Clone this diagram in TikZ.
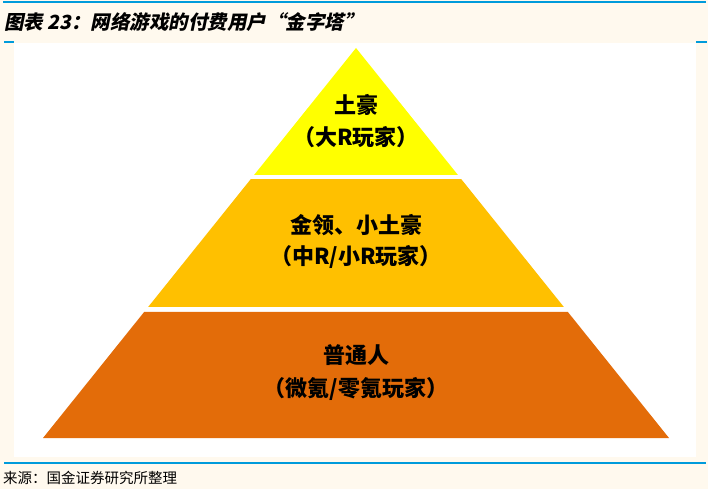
\documentclass[tikz,border=0pt]{standalone}
\usepackage{fontspec}
\newfontfamily\cjk{Noto Sans CJK SC}
\newfontfamily\cjkslant{Noto Sans CJK SC}[FakeSlant=0.2]
\usetikzlibrary{calc}
\definecolor{bg}{HTML}{FFF9EE}
\definecolor{rulecol}{HTML}{009BDB}
\definecolor{tierone}{HTML}{FFFF00}
\definecolor{tiertwo}{HTML}{FFC000}
\definecolor{tierthree}{HTML}{E36C09}
\begin{document}
\begin{tikzpicture}[x=1pt,y=-1pt,
  tiertext/.style={font=\cjk\bfseries\fontsize{22}{24}\selectfont, inner sep=0pt, anchor=center, text=black},
  bluerule/.style={draw=rulecol, line width=2pt}]
\useasboundingbox (0,0) rectangle (708,489);
\fill[bg] (0,0) rectangle (708,489);
\fill[white] (14,43) rectangle (696,457);
% rules
\coordinate (rtl) at (3,2.5);
\coordinate (rtr) at (706,2.5);
\draw[bluerule] (rtl) -- (rtr);
\coordinate (tkl1) at (4,42);
\coordinate (tkl2) at (14,42);
\coordinate (tkr1) at (696,42);
\coordinate (tkr2) at (707,42);
\draw[draw=rulecol, line width=1.3pt] (tkl1) -- (tkl2);
\draw[draw=rulecol, line width=1.3pt] (tkr1) -- (tkr2);
\coordinate (rbl) at (4,463);
\coordinate (rbr) at (706,463);
\draw[bluerule] (rbl) -- (rbr);
% title and source
\node[anchor=west, inner sep=0pt, font=\cjkslant\bfseries\fontsize{19.5}{22}\selectfont] (title) at (4,22) {图表 23：网络游戏的付费用户“金字塔”};
\node[anchor=west, inner sep=0pt, font=\cjk\fontsize{14.5}{16}\selectfont] (source) at (3,478) {来源：国金证券研究所整理};
% pyramid
\coordinate (apex) at (356,48);
\coordinate (bl) at (43,438);
\coordinate (br) at (669,438);
\fill[tierone] (apex) -- ($(apex)!0.3256!(bl)$) -- ($(apex)!0.3256!(br)$) -- cycle;
\fill[tiertwo] ($(apex)!0.3359!(bl)$) -- ($(apex)!0.6641!(bl)$) -- ($(apex)!0.6641!(br)$) -- ($(apex)!0.3359!(br)$) -- cycle;
\fill[tierthree] ($(apex)!0.6769!(bl)$) -- (bl) -- (br) -- ($(apex)!0.6769!(br)$) -- cycle;
% labels
\node[tiertext] (t1a) at (356,105) {土豪};
\node[tiertext] (t1b) at (356,137) {（大R玩家）};
\node[tiertext] (t2a) at (356,225) {金领、小土豪};
\node[tiertext] (t2b) at (356,257) {（中R/小R玩家）};
\node[tiertext] (t3a) at (356,355) {普通人};
\node[tiertext] (t3b) at (356,389) {（微氪/零氪玩家）};
\end{tikzpicture}
\end{document}
